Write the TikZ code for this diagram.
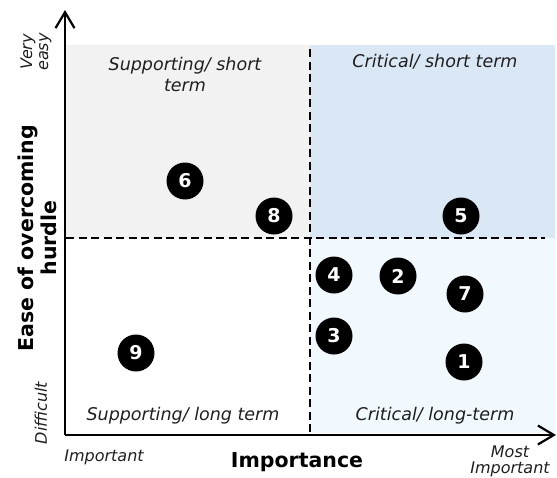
\documentclass[tikz,border=0pt]{standalone}
\usepackage{fontspec}
\setmainfont{DejaVu Sans}
\usetikzlibrary{arrows.meta}
\definecolor{panelgray}{HTML}{F2F2F2}
\definecolor{panelblue}{HTML}{DAE8F6}
\definecolor{panelpale}{HTML}{F1F8FE}
\begin{document}
\begin{tikzpicture}[x=1pt,y=-1pt,
  axis/.style={line width=2.2pt,-{Straight Barb[length=16pt,width=19pt,line width=2.2pt]}},
  divider/.style={line width=2pt,dash pattern=on 8pt off 4.5pt},
  quad/.style={font=\itshape\fontsize{17.5}{21}\selectfont,align=center,text=black!88},
  item/.style={circle,fill=black,minimum size=37pt,inner sep=0pt,text=white,font=\bfseries\fontsize{19}{19}\selectfont},
  tick/.style={font=\itshape\fontsize{16}{16}\selectfont,align=center,text=black!88},
  title/.style={font=\bfseries\fontsize{20.5}{23}\selectfont,align=center}]
\useasboundingbox (0,0) rectangle (557,477);
% quadrant backgrounds
\fill[panelgray] (65,45) rectangle (310,238);
\fill[panelblue] (310,45) rectangle (555,238);
\fill[panelpale] (310,238) rectangle (555,433);
% quadrant dividers
\coordinate (vtop) at (310,49);
\coordinate (vbot) at (310,433);
\coordinate (hl) at (66,238);
\coordinate (hr) at (545,238);
\draw[divider] (vtop) -- (vbot);
\draw[divider] (hl) -- (hr);
% axes
\coordinate (origin) at (65,435);
\coordinate (ytip) at (65,10);
\coordinate (xtip) at (556,435);
\draw[axis] (origin) -- (ytip);
\draw[axis] (origin) -- (xtip);
% quadrant labels
\node[quad] (qss) at (185,74) {Supporting/ short\\term};
\node[quad] (qcs) at (435,62) {Critical/ short term};
\node[quad] (qsl) at (183,416) {Supporting/ long term};
\node[quad] (qcl) at (435,416) {Critical/ long-term};
% axis labels
\node[tick,rotate=90] (veasy) at (36,52) {Very\\easy};
\node[tick,rotate=90] (diff) at (41,413) {Difficult};
\node[title,rotate=90] (ylab) at (37,238) {Ease of overcoming\\hurdle};
\node[tick] (imp) at (104,457) {Important};
\node[title] (xlab) at (297,462) {Importance};
\node[tick] (most) at (510,461) {Most\\Important};
% items
\node[item] (i1) at (464,362) {1};
\node[item] (i2) at (398,276) {2};
\node[item] (i3) at (334,336) {3};
\node[item] (i4) at (334,275) {4};
\node[item] (i5) at (461,216) {5};
\node[item] (i6) at (185,181) {6};
\node[item] (i7) at (465,294) {7};
\node[item] (i8) at (274,216) {8};
\node[item] (i9) at (136,353) {9};
\end{tikzpicture}
\end{document}
